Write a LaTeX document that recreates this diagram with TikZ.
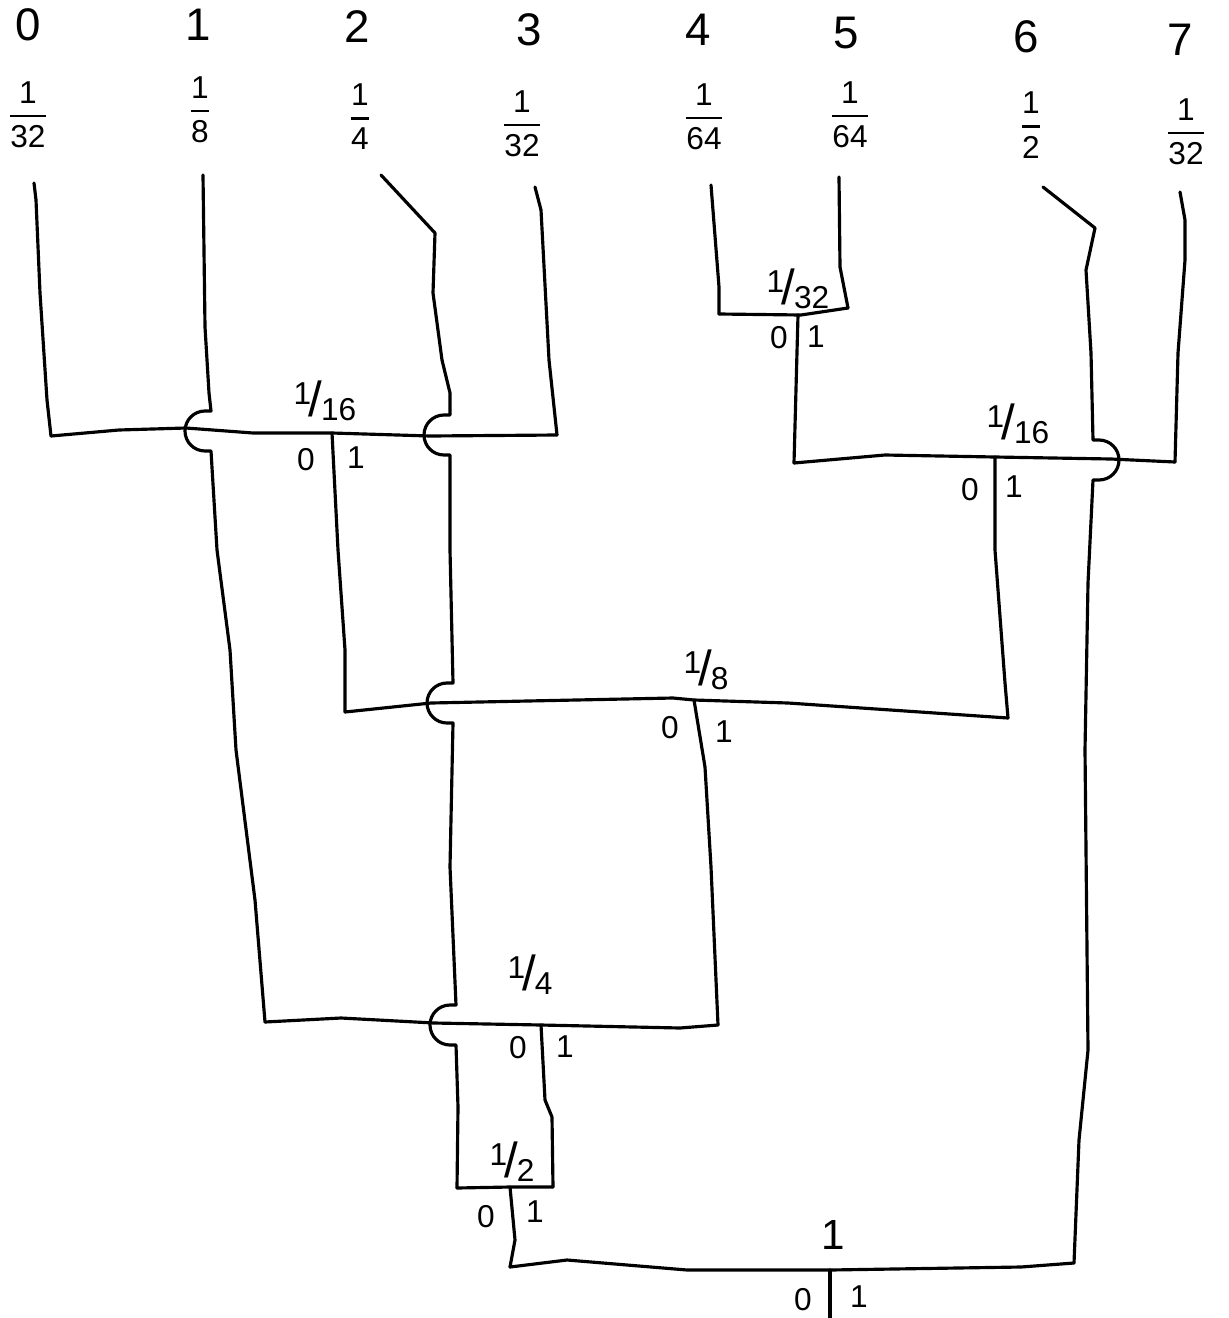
\documentclass[tikz,border=0pt]{standalone}
\usepackage{amsmath}
\usepackage{fontspec}
\setmainfont{Liberation Sans}
\newcommand{\probfrac}[2]{$\genfrac{}{}{0.8pt}{0}{\text{#1}}{\text{#2}}$}
\newcommand{\wtfrac}[2]{{\fontsize{9}{9}\selectfont\raisebox{0.75ex}{#1}}\kern-0.06em{\fontsize{14}{14}\selectfont /}\kern-0.04em{\fontsize{9}{9}\selectfont\raisebox{-0.25ex}{#2}}}
\begin{document}
\begin{tikzpicture}[x=0.1mm, y=-0.1mm,
    wire/.style={line width=0.9pt, line join=round, line cap=round},
    digit/.style={font=\fontsize{13}{15}\selectfont},
    prob/.style={font=\fontsize{9}{11}\selectfont, inner sep=0pt},
    weight/.style={font=\fontsize{11}{13}\selectfont, inner sep=0pt},
    bit/.style={font=\fontsize{9}{11}\selectfont, inner sep=0pt}]
    \useasboundingbox (0,0) rectangle (1228,1318);

    % Symbols
    \node[digit] (d0) at (28,25) {0};
    \node[digit] (d1) at (198,25) {1};
    \node[digit] (d2) at (357,27) {2};
    \node[digit] (d3) at (529,30) {3};
    \node[digit] (d4) at (698,30) {4};
    \node[digit] (d5) at (846,33) {5};
    \node[digit] (d6) at (1026,37) {6};
    \node[digit] (d7) at (1180,40) {7};

    % Probabilities
    \node[prob] (p0) at (28,115) {\probfrac{1}{32}};
    \node[prob] (p1) at (200,110) {\probfrac{1}{8}};
    \node[prob] (p2) at (360,117) {\probfrac{1}{4}};
    \node[prob] (p3) at (522,124) {\probfrac{1}{32}};
    \node[prob] (p4) at (704,117) {\probfrac{1}{64}};
    \node[prob] (p5) at (850,115) {\probfrac{1}{64}};
    \node[prob] (p6) at (1031,125) {\probfrac{1}{2}};
    \node[prob] (p7) at (1186,132) {\probfrac{1}{32}};

    % Line starts below the leaves
    \coordinate (t0) at (34,183);
    \coordinate (t1) at (203,175);
    \coordinate (t2) at (381,175);
    \coordinate (t3) at (535,187);
    \coordinate (t4) at (711,185);
    \coordinate (t5) at (839,177);
    \coordinate (t6) at (1043,187);
    \coordinate (t7) at (1180,192);

    % Merge bars: west end, east end, stem
    \coordinate (h32w) at (719,314);  \coordinate (h32e) at (848,308);  \coordinate (h32s) at (798,315);
    \coordinate (r16w) at (794,463);  \coordinate (r16e) at (1175,462); \coordinate (r16s) at (995,457);
    \coordinate (l16w) at (51,436);   \coordinate (l16e) at (557,435);  \coordinate (l16s) at (332,433);
    \coordinate (h8w) at (345,712);   \coordinate (h8e) at (1008,718);  \coordinate (h8s) at (694,700);
    \coordinate (h4w) at (265,1022);  \coordinate (h4e) at (718,1025);  \coordinate (h4s) at (541,1025);
    \coordinate (h2w) at (457,1188);  \coordinate (h2e) at (553,1187);  \coordinate (h2s) at (510,1187);
    \coordinate (h1w) at (510,1267);  \coordinate (h1e) at (1074,1263); \coordinate (h1s) at (830,1270);
    \coordinate (out) at (830,1318);

    % Weights
    \node[weight] (w32) at (798,289) {\wtfrac{1}{32}};
    \node[weight] (w16r) at (1018,424) {\wtfrac{1}{16}};
    \node[weight] (w16l) at (325,401) {\wtfrac{1}{16}};
    \node[weight] (w8) at (706,670) {\wtfrac{1}{8}};
    \node[weight] (w4) at (530,975) {\wtfrac{1}{4}};
    \node[weight] (w2) at (512,1162) {\wtfrac{1}{2}};
    \node[font=\fontsize{12}{14}\selectfont, inner sep=0pt] (w1) at (833,1235) {1};

    % Bits
    \node[bit] (b32z) at (779,338) {0};   \node[bit] (b32o) at (816,337) {1};
    \node[bit] (b16rz) at (970,490) {0};  \node[bit] (b16ro) at (1014,487) {1};
    \node[bit] (b16lz) at (306,460) {0};  \node[bit] (b16lo) at (356,458) {1};
    \node[bit] (b8z) at (670,728) {0};    \node[bit] (b8o) at (724,732) {1};
    \node[bit] (b4z) at (518,1048) {0};   \node[bit] (b4o) at (565,1047) {1};
    \node[bit] (b2z) at (486,1217) {0};   \node[bit] (b2o) at (535,1212) {1};
    \node[bit] (b1z) at (803,1300) {0};   \node[bit] (b1o) at (859,1297) {1};

    % Leaves down to their bars (hops where they cross a bar)
    \draw[wire] (t0) -- (36,200) -- (40,293) -- (47,400) -- (l16w);
    \draw[wire] (t1) -- (205,327) -- (209,393) -- (211,411) -- (205,411)
        arc[start angle=90, end angle=270, radius=2mm] -- (211,451)
        -- (217,550) -- (230,650) -- (236,750) -- (255,900) -- (h4w);
    \draw[wire] (t2) -- (435,233) -- (433,293) -- (442,360) -- (450,393) -- (450,415) -- (444,415)
        arc[start angle=90, end angle=270, radius=2mm] -- (450,455)
        -- (450,550) -- (453,683) -- (447,683)
        arc[start angle=90, end angle=270, radius=2mm] -- (453,723)
        -- (450,867) -- (456,1005) -- (450,1005)
        arc[start angle=90, end angle=270, radius=2mm] -- (456,1045)
        -- (458,1107) -- (h2w);
    \draw[wire] (t3) -- (541,210) -- (549,360) -- (l16e);
    \draw[wire] (t4) -- (719,287) -- (h32w);
    \draw[wire] (t5) -- (840,267) -- (h32e);
    \draw[wire] (t6) -- (1095,228) -- (1086,270) -- (1091,353) -- (1093,440) -- (1099,440)
        arc[start angle=90, end angle=-90, radius=2mm] -- (1093,480)
        -- (1088,583) -- (1085,750) -- (1088,1050) -- (1079,1140) -- (h1e);
    \draw[wire] (t7) -- (1185,220) -- (1185,260) -- (1178,353) -- (r16e);

    % Bars
    \draw[wire] (h32w) -- (801,315) -- (h32e);
    \draw[wire] (r16w) -- (885,455) -- (r16s) -- (1111,459) -- (r16e);
    \draw[wire] (l16w) -- (119,430) -- (186,428) -- (253,433) -- (l16s) -- (430,436) -- (l16e);
    \draw[wire] (h8w) -- (431,703) -- (673,698) -- (h8s) -- (788,703) -- (h8e);
    \draw[wire] (h4w) -- (341,1018) -- (434,1023) -- (h4s) -- (680,1028) -- (h4e);
    \draw[wire] (h2w) -- (h2s) -- (h2e);
    \draw[wire] (h1w) -- (567,1260) -- (687,1270) -- (h1s) -- (1021,1267) -- (h1e);

    % Stems
    \draw[wire] (h32s) -- (r16w);
    \draw[wire] (r16s) -- (995,550) -- (1005,683) -- (h8e);
    \draw[wire] (l16s) -- (338,550) -- (345,650) -- (h8w);
    \draw[wire] (h8s) -- (705,767) -- (711,867) -- (h4e);
    \draw[wire] (h4s) -- (545,1100) -- (552,1117) -- (h2e);
    \draw[wire] (h2s) -- (515,1240) -- (h1w);
    \draw[wire] (h1s) -- (out);
\end{tikzpicture}
\end{document}
